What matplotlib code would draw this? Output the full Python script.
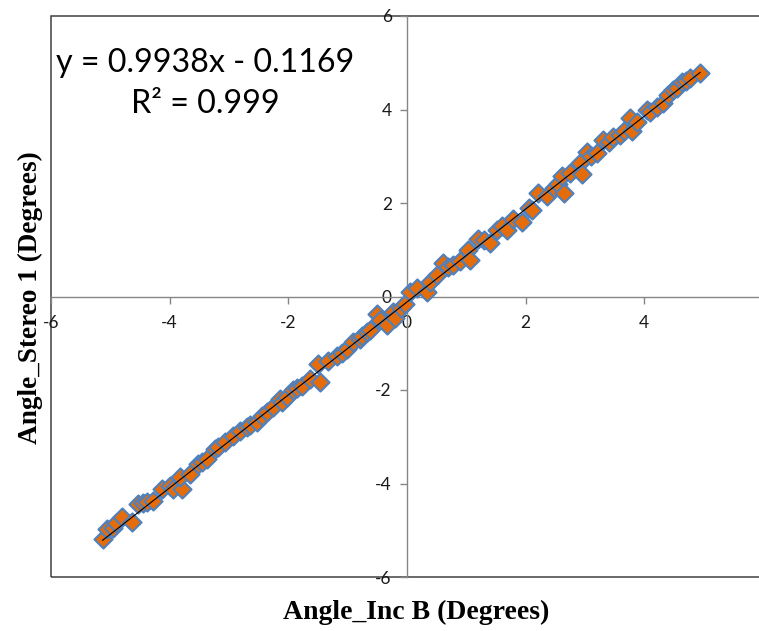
import matplotlib
matplotlib.use("Agg")
import matplotlib.pyplot as plt
from matplotlib.patches import Rectangle
import numpy as np

plt.rcParams["axes.unicode_minus"] = False

# ---- data ----
x_vals = [-5.13, -5.06, -4.96, -4.90, -4.81, -4.64, -4.54, -4.45, -4.38, -4.28,
          -4.13, -4.00, -3.95, -3.79, -3.83, -3.66, -3.52, -3.45, -3.37, -3.24,
          -3.19, -3.07, -2.93, -2.82, -2.70, -2.65, -2.53, -2.45, -2.36, -2.26,
          -2.14, -2.10, -2.02, -1.92, -1.85, -1.77, -1.64, -1.50, -1.47, -1.33,
          -1.18, -1.10, -1.01, -0.91, -0.80, -0.76, -0.67, -0.62, -0.51, -0.45,
          -0.34, -0.24, -0.20, -0.10, -0.03,
          0.05, 0.17, 0.34, 0.39, 0.50, 0.61, 0.69, 0.78, 0.90, 1.03,
          1.06, 1.20, 1.30, 1.40, 1.51, 1.60, 1.68, 1.79, 1.93, 2.05,
          2.10, 2.21, 2.36, 2.47, 2.55, 2.61, 2.64, 2.75, 2.92, 2.95,
          3.03, 3.10, 3.20, 3.31, 3.40, 3.48, 3.59, 3.65, 3.76, 3.79,
          3.87, 4.04, 4.10, 4.21, 4.32, 4.40, 4.49, 4.55, 4.63, 4.70,
          4.77, 4.94]
y_vals = [-5.19, -4.98, -4.95, -4.85, -4.72, -4.83, -4.44, -4.42, -4.40, -4.38,
          -4.12, -4.05, -4.12, -4.12, -3.87, -3.80, -3.59, -3.55, -3.48, -3.27,
          -3.21, -3.12, -2.99, -2.88, -2.80, -2.74, -2.69, -2.55, -2.48, -2.37,
          -2.20, -2.25, -2.14, -1.99, -1.95, -1.92, -1.77, -1.45, -1.82, -1.39,
          -1.28, -1.20, -1.13, -0.98, -0.90, -0.85, -0.77, -0.71, -0.38, -0.50,
          -0.60, -0.34, -0.45, -0.25, -0.15,
          0.10, 0.19, 0.09, 0.30, 0.45, 0.72, 0.64, 0.68, 0.75, 1.00,
          0.79, 1.22, 1.20, 1.15, 1.43, 1.50, 1.43, 1.65, 1.60, 1.90,
          1.86, 2.22, 2.14, 2.33, 2.40, 2.57, 2.22, 2.65, 2.86, 2.61,
          3.10, 3.00, 3.07, 3.35, 3.30, 3.42, 3.46, 3.55, 3.82, 3.53,
          3.74, 4.00, 3.95, 4.06, 4.14, 4.30, 4.42, 4.45, 4.59, 4.60,
          4.68, 4.79]

slope = 0.9938
intercept = -0.1169
r_squared = 0.999

x_ticks = [-6, -4, -2, 0, 2, 4, 6]
x_tick_labels = ["-6", "-4", "-2", "0", "2", "4", ""]
y_ticks = [-6, -4, -2, 0, 2, 4, 6]
y_tick_labels = ["-6", "-4", "-2", "0", "2", "4", "6"]

W, H = 759, 631
fig = plt.figure(figsize=(W / 100, H / 100), dpi=100)
ax = fig.add_axes([51 / W, (H - 577) / H, 712 / W, 561 / H])
ax.set_xlim(-6, 6)
ax.set_ylim(-6, 6)

# axes crossing at the origin
for s in ["right", "top"]:
    ax.spines[s].set_visible(False)
ax.spines["left"].set_position(("data", 0))
ax.spines["bottom"].set_position(("data", 0))
for s in ["left", "bottom"]:
    ax.spines[s].set_color("#868686")
    ax.spines[s].set_linewidth(1.0)

# plot-area border
ax.add_patch(Rectangle((0, 0), 1, 1, transform=ax.transAxes, fill=False,
                       edgecolor="#404040", linewidth=1.1, clip_on=False, zorder=1))

ax.set_xticks(x_ticks, x_tick_labels)
ax.set_yticks(y_ticks, y_tick_labels)
ax.tick_params(axis="both", direction="out", length=5, width=1.0, color="#868686",
               labelsize=12.5, labelcolor="#1a1a1a")
ax.tick_params(axis="x", pad=8)
ax.tick_params(axis="y", pad=6)
for lab in ax.get_xticklabels() + ax.get_yticklabels():
    lab.set_family("Lato")

ax.scatter(x_vals, y_vals, marker="D", s=85, facecolor="#E46C0A",
           edgecolor="#4F81BD", linewidth=1.5, zorder=3, clip_on=False)

xs = np.array([min(x_vals), max(x_vals)])
ax.plot(xs, slope * xs + intercept, color="black", linewidth=0.8, zorder=4)

fig.text(205 / W, 1 - 63 / H, f"y = {slope}x - {abs(intercept)}", ha="center",
         va="center", fontsize=23.2, family="Lato", color="black")
fig.text(205 / W, 1 - 104 / H, f"R² = {r_squared}", ha="center",
         va="center", fontsize=23.2, family="Lato", color="black")

fig.text(416 / W, 1 - 612 / H, "Angle_Inc B (Degrees)", ha="center", va="center",
         fontsize=20, family="Liberation Serif", fontweight="bold")
fig.text(30 / W, 1 - 298 / H, "Angle_Stereo 1 (Degrees)", ha="center", va="center",
         rotation=90, fontsize=19.6, family="Liberation Serif", fontweight="bold")

fig.savefig("out.png", dpi=100)
